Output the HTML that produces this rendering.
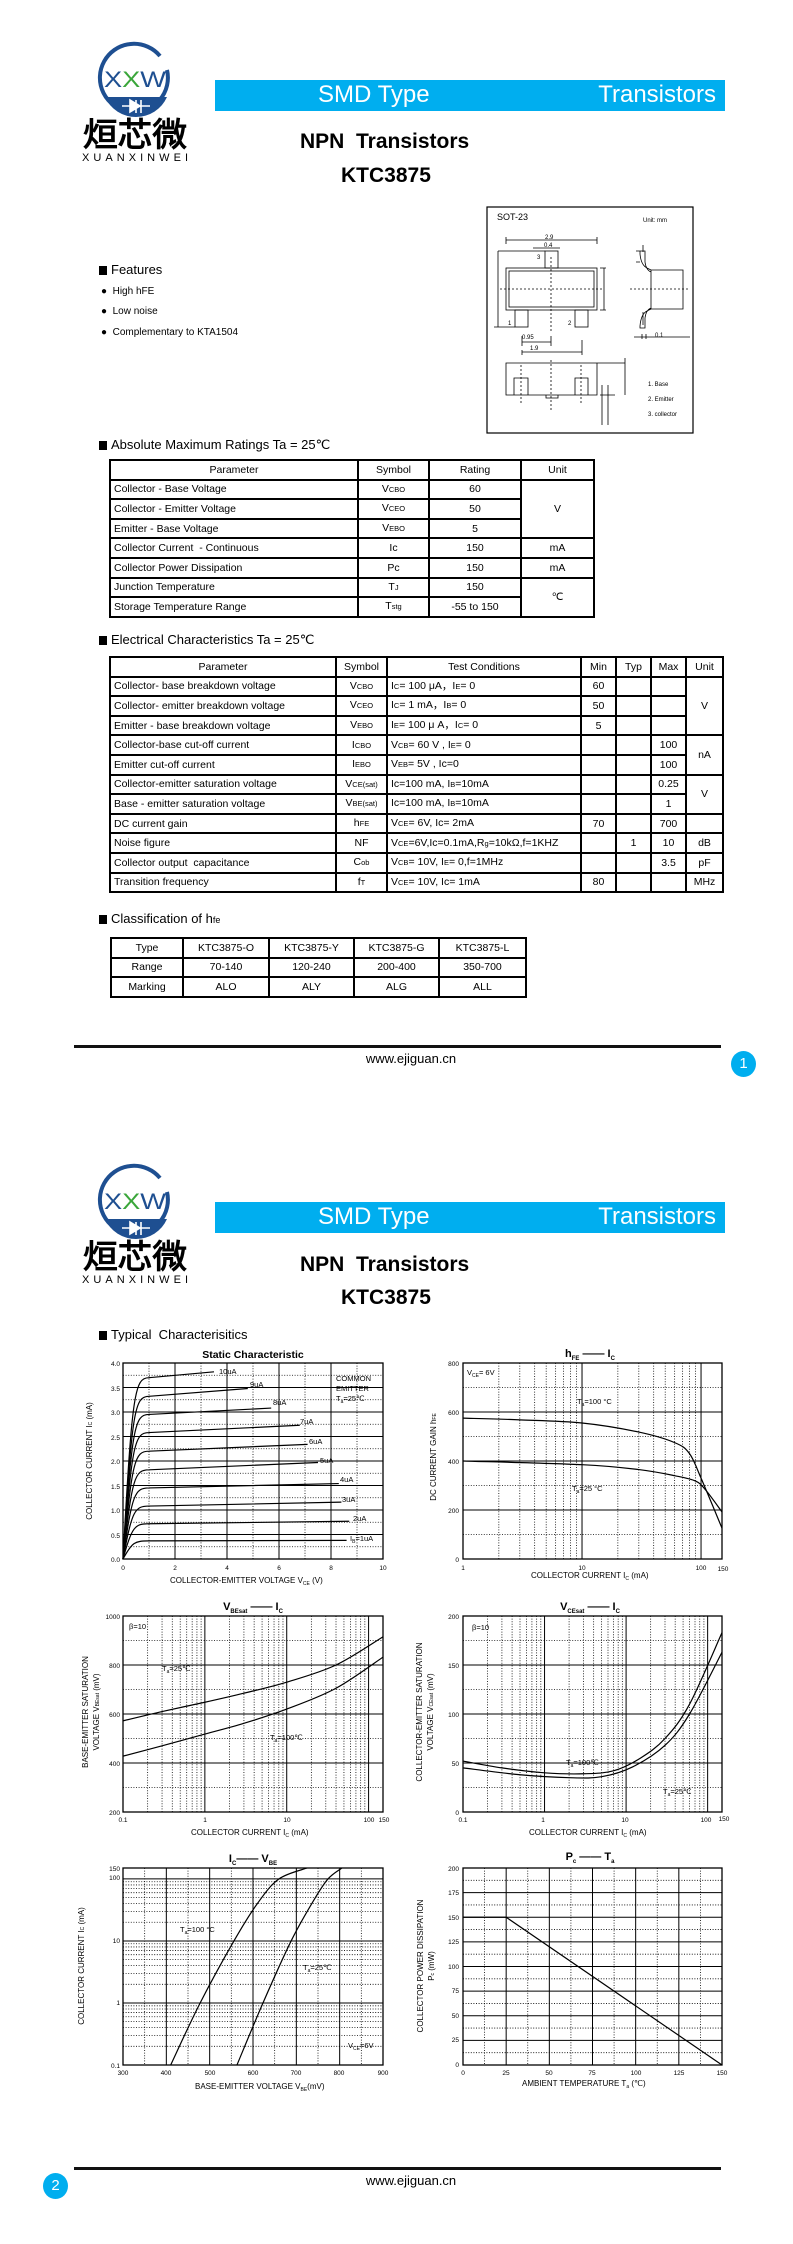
<!DOCTYPE html>
<html><head><meta charset="utf-8">
<style>
html,body{margin:0;padding:0;background:#fff;}
body{width:793px;height:2244px;position:relative;overflow:hidden;font-family:"Liberation Sans Narrow","Liberation Sans",sans-serif;color:#000;}
.a{position:absolute;white-space:nowrap;}
.bar{position:absolute;left:215px;width:510px;height:31px;background:#00aeef;color:#fff;font-size:24px;}
.bar .l{position:absolute;left:103px;top:1px;}
.bar .r{position:absolute;right:9px;top:1px;}
.h1{position:absolute;font-weight:bold;font-size:21px;}
.sec{position:absolute;left:99px;font-size:13px;}
.sec:before{content:"";display:inline-block;width:8px;height:9px;background:#000;margin-right:4px;vertical-align:-1px;}
table{position:absolute;border-collapse:collapse;table-layout:fixed;font-size:10.5px;}
td{border:2px solid #000;padding:0 0 0 3px;height:17.6px;line-height:14px;overflow:hidden;white-space:nowrap;}
td.c{text-align:center;padding:0;}
.s{font-size:7.5px;}
.foot{position:absolute;left:74px;width:647px;height:3px;background:#111;}
.www{position:absolute;font-size:13px;width:200px;text-align:center;}
.pg{position:absolute;width:25px;height:26px;border-radius:50%;background:#00aeef;color:#fff;font-size:15px;text-align:center;line-height:26px;}
svg text{font-family:"Liberation Sans Narrow","Liberation Sans",sans-serif;}
</style></head><body>

<svg class="a" style="left:0;top:0" width="793" height="2244" id="sv">
<defs>
<g id="logo">
 <path d="M160 56 A34 34 0 1 0 167 70" fill="none" stroke="#1e4f91" stroke-width="4"/>
 <path d="M105 97 L167 97 A34 34 0 0 1 105 97 Z" fill="#1e4f91"/>
 <path d="M122 106 L150 106 M136 100 L136 113 M130 100 L140 106 L130 112 Z M141 100 L141 113" stroke="#fff" stroke-width="1.6" fill="#fff"/>
 <text x="104" y="87" font-size="22" fill="#1e4f91" font-family="Liberation Sans" textLength="62" lengthAdjust="spacingAndGlyphs">X<tspan fill="#3aa63a">X</tspan>W</text>
 <text x="83" y="146" font-size="33" font-weight="bold" font-family="'Noto Sans CJK SC',sans-serif" textLength="104" lengthAdjust="spacingAndGlyphs">烜芯微</text>
 <text x="82" y="161" font-size="11" font-family="Liberation Sans" textLength="106" lengthAdjust="spacing">XUANXINWEI</text>
</g>
</defs>
<use href="#logo"/>
<use href="#logo" y="1122"/>

<g fill="none" stroke="#000" stroke-width="0.8">
 <rect x="487" y="207" width="206" height="226" stroke-width="1.2"/>
 <rect x="506" y="268" width="91" height="42"/>
 <rect x="509" y="271" width="85" height="36"/>
 <rect x="545" y="251" width="13" height="17"/>
 <rect x="515" y="310" width="13" height="17"/>
 <rect x="575" y="310" width="13" height="17"/>
 <path d="M506 237 V244 M597 237 V244 M506 240 H597 M533 248 H560 M498 251 H545 M498 251 V327 M494 327 H515 M600 268 H606 M600 310 H606 M604 268 V310 M522 336 V346 M551 336 V346 M522 342 H551 M522 350 V355 M582 340 V355 M522 352 H582"/>
 <path d="M551 257 V332 M500 289 H603" stroke-dasharray="2,2"/>
 <path d="M651 270 H683 V309 H651 Z M651 270 L647 268 Q641 265 640 254 V251 H645 V262 Q646 270 651 272 M651 309 L647 311 Q641 314 640 326 V328 H645 V318 Q646 310 651 308 M643 245 V252 M640 262 H636 M640 251 H636 M643 312 V325 M642 339 V334 M646 339 V334 M634 337 H690"/>
 <path d="M630 289 H688" stroke-dasharray="2,2"/>
 <path d="M506 363 H597 V395 H506 Z M514 378 H528 V395 H514 Z M575 378 H588 V395 H575 Z M546 395 H558 V398 H546 Z M597 363 H625 M625 358 V395 M600 395 H615 M602 385 V425 M608 385 V425"/>
 <path d="M521 365 V405 M551 360 V410 M581 365 V405" stroke-dasharray="2,2"/>
</g>
<g font-family="Liberation Serif" font-size="8">
 <text x="497" y="220" font-size="9">SOT-23</text>
 <text x="643" y="222" font-size="6">Unit: mm</text>
 <text x="545" y="239" font-size="6">2.9</text>
 <text x="544" y="247" font-size="6">0.4</text>
 <text x="537" y="259" font-size="6">3</text>
 <text x="508" y="325" font-size="6">1</text>
 <text x="568" y="325" font-size="6">2</text>
 <text x="522" y="339" font-size="6">0.95</text>
 <text x="530" y="350" font-size="6">1.9</text>
 <text x="648" y="386" font-size="6">1. Base</text>
 <text x="648" y="401" font-size="6">2. Emitter</text>
 <text x="648" y="416" font-size="6">3. collector</text>
 <text x="655" y="337" font-size="6">0.1</text>
</g>

<g font-size="8" id="txt">
 <text x="253" y="1358" text-anchor="middle" font-size="10.5" font-weight="bold">Static Characteristic</text>
 <g text-anchor="end" font-size="6.5">
  <text x="120" y="1366">4.0</text><text x="120" y="1391">3.5</text><text x="120" y="1415">3.0</text><text x="120" y="1440">2.5</text><text x="120" y="1464">2.0</text><text x="120" y="1489">1.5</text><text x="120" y="1513">1.0</text><text x="120" y="1538">0.5</text><text x="120" y="1562">0.0</text>
 </g>
 <g text-anchor="middle" font-size="6.5">
  <text x="123" y="1570">0</text><text x="175" y="1570">2</text><text x="227" y="1570">4</text><text x="279" y="1570">6</text><text x="331" y="1570">8</text><text x="383" y="1570">10</text>
 </g>
 <text x="170" y="1583" font-size="8">COLLECTOR-EMITTER VOLTAGE   V<tspan font-size="5" dy="2">CE</tspan><tspan dy="-2">   (V)</tspan></text>
 <text transform="translate(92,1461) rotate(-90)" text-anchor="middle" font-size="8" font-family="Liberation Sans">COLLECTOR CURRENT   I<tspan font-size="5">C</tspan>   (mA)</text>
 <g font-size="7.5">
  <text x="219" y="1374">10uA</text><text x="250" y="1387">9uA</text><text x="273" y="1405">8uA</text><text x="300" y="1424">7uA</text><text x="309" y="1444">6uA</text><text x="320" y="1463">5uA</text><text x="340" y="1482">4uA</text><text x="342" y="1502">3uA</text><text x="353" y="1521">2uA</text><text x="350" y="1541">I<tspan font-size="5" dy="2">B</tspan><tspan dy="-2">=1uA</tspan></text>
  <text x="336" y="1381">COMMON</text><text x="336" y="1391">EMITTER</text><text x="336" y="1401">T<tspan font-size="5" dy="2">a</tspan><tspan dy="-2">=25℃</tspan></text>
 </g>
 <text x="590" y="1357" text-anchor="middle" font-size="11" font-weight="bold">h<tspan font-size="6" dy="3">FE</tspan><tspan dy="-3"> —— I</tspan><tspan font-size="6" dy="3">C</tspan></text>
 <g text-anchor="end" font-size="6.5">
  <text x="459" y="1366">800</text><text x="459" y="1415">600</text><text x="459" y="1464">400</text><text x="459" y="1513">200</text><text x="459" y="1562">0</text>
 </g>
 <g text-anchor="middle" font-size="6.5">
  <text x="463" y="1570">1</text><text x="582" y="1570">10</text><text x="701" y="1570">100</text><text x="723" y="1571">150</text>
 </g>
 <text x="531" y="1578" font-size="8">COLLECTOR CURRENT   I<tspan font-size="5" dy="2">C</tspan><tspan dy="-2">   (mA)</tspan></text>
 <text transform="translate(436,1457) rotate(-90)" text-anchor="middle" font-size="8" font-family="Liberation Sans">DC CURRENT GAIN  h<tspan font-size="5">FE</tspan></text>
 <text x="467" y="1375" font-size="7.5">V<tspan font-size="5" dy="2">CE</tspan><tspan dy="-2">= 6V</tspan></text>
 <text x="577" y="1404" font-size="7.5">T<tspan font-size="5" dy="2">a</tspan><tspan dy="-2">=100 °C</tspan></text>
 <text x="572" y="1491" font-size="7.5">T<tspan font-size="5" dy="2">a</tspan><tspan dy="-2">=25 °C</tspan></text>
 <text x="253" y="1610" text-anchor="middle" font-size="11" font-weight="bold">V<tspan font-size="6" dy="3">BEsat</tspan><tspan dy="-3"> —— I</tspan><tspan font-size="6" dy="3">C</tspan></text>
 <g text-anchor="end" font-size="6.5">
  <text x="120" y="1619">1000</text><text x="120" y="1668">800</text><text x="120" y="1717">600</text><text x="120" y="1766">400</text><text x="120" y="1815">200</text>
 </g>
 <g text-anchor="middle" font-size="6.5">
  <text x="123" y="1822">0.1</text><text x="205" y="1822">1</text><text x="287" y="1822">10</text><text x="369" y="1822">100</text><text x="384" y="1822">150</text>
 </g>
 <text x="191" y="1835" font-size="8">COLLECTOR CURRENT   I<tspan font-size="5" dy="2">C</tspan><tspan dy="-2">   (mA)</tspan></text>
 <text transform="translate(88,1712) rotate(-90)" text-anchor="middle" font-size="8" font-family="Liberation Sans">BASE-EMITTER SATURATION</text>
 <text transform="translate(99,1712) rotate(-90)" text-anchor="middle" font-size="8" font-family="Liberation Sans">VOLTAGE   V<tspan font-size="5">BEsat</tspan>   (mV)</text>
 <text x="129" y="1629" font-size="7.5">β=10</text>
 <text x="162" y="1671" font-size="7.5">T<tspan font-size="5" dy="2">a</tspan><tspan dy="-2">=25℃</tspan></text>
 <text x="270" y="1740" font-size="7.5">T<tspan font-size="5" dy="2">a</tspan><tspan dy="-2">=100℃</tspan></text>
 <text x="590" y="1610" text-anchor="middle" font-size="11" font-weight="bold">V<tspan font-size="6" dy="3">CEsat</tspan><tspan dy="-3"> —— I</tspan><tspan font-size="6" dy="3">C</tspan></text>
 <g text-anchor="end" font-size="6.5">
  <text x="459" y="1619">200</text><text x="459" y="1668">150</text><text x="459" y="1717">100</text><text x="459" y="1766">50</text><text x="459" y="1815">0</text>
 </g>
 <g text-anchor="middle" font-size="6.5">
  <text x="463" y="1822">0.1</text><text x="543" y="1822">1</text><text x="625" y="1822">10</text><text x="706" y="1822">100</text><text x="724" y="1821">150</text>
 </g>
 <text x="529" y="1835" font-size="8">COLLECTOR CURRENT   I<tspan font-size="5" dy="2">C</tspan><tspan dy="-2">   (mA)</tspan></text>
 <text transform="translate(422,1712) rotate(-90)" text-anchor="middle" font-size="8" font-family="Liberation Sans">COLLECTOR-EMITTER SATURATION</text>
 <text transform="translate(433,1712) rotate(-90)" text-anchor="middle" font-size="8" font-family="Liberation Sans">VOLTAGE   V<tspan font-size="5">CEsat</tspan>   (mV)</text>
 <text x="472" y="1630" font-size="7.5">β=10</text>
 <text x="566" y="1765" font-size="7.5">T<tspan font-size="5" dy="2">a</tspan><tspan dy="-2">=100℃</tspan></text>
 <text x="663" y="1794" font-size="7.5">T<tspan font-size="5" dy="2">a</tspan><tspan dy="-2">=25℃</tspan></text>
 <text x="253" y="1862" text-anchor="middle" font-size="11" font-weight="bold">I<tspan font-size="6" dy="3">C</tspan><tspan dy="-3">—— V</tspan><tspan font-size="6" dy="3">BE</tspan></text>
 <g text-anchor="end" font-size="6.5">
  <text x="120" y="1871">150</text><text x="120" y="1880">100</text><text x="120" y="1943">10</text><text x="120" y="2005">1</text><text x="120" y="2068">0.1</text>
 </g>
 <g text-anchor="middle" font-size="6.5">
  <text x="123" y="2075">300</text><text x="166" y="2075">400</text><text x="210" y="2075">500</text><text x="253" y="2075">600</text><text x="296" y="2075">700</text><text x="339" y="2075">800</text><text x="383" y="2075">900</text>
 </g>
 <text x="195" y="2089" font-size="8">BASE-EMITTER VOLTAGE    V<tspan font-size="5" dy="2">BE</tspan><tspan dy="-2">(mV)</tspan></text>
 <text transform="translate(84,1966) rotate(-90)" text-anchor="middle" font-size="8" font-family="Liberation Sans">COLLECTOR CURRENT      I<tspan font-size="5">C</tspan> (mA)</text>
 <text x="180" y="1932" font-size="7.5">T<tspan font-size="5" dy="2">a</tspan><tspan dy="-2">=100 °C</tspan></text>
 <text x="303" y="1970" font-size="7.5">T<tspan font-size="5" dy="2">a</tspan><tspan dy="-2">=25℃</tspan></text>
 <text x="348" y="2048" font-size="7.5">V<tspan font-size="5" dy="2">CE</tspan><tspan dy="-2">=6V</tspan></text>
 <text x="590" y="1860" text-anchor="middle" font-size="11" font-weight="bold">P<tspan font-size="6" dy="3">c</tspan><tspan dy="-3"> —— T</tspan><tspan font-size="6" dy="3">a</tspan></text>
 <g text-anchor="end" font-size="6.5">
  <text x="459" y="1871">200</text><text x="459" y="1895">175</text><text x="459" y="1920">150</text><text x="459" y="1944">125</text><text x="459" y="1969">100</text><text x="459" y="1993">75</text><text x="459" y="2018">50</text><text x="459" y="2042">25</text><text x="459" y="2067">0</text>
 </g>
 <g text-anchor="middle" font-size="6.5">
  <text x="463" y="2075">0</text><text x="506" y="2075">25</text><text x="549" y="2075">50</text><text x="592" y="2075">75</text><text x="636" y="2075">100</text><text x="679" y="2075">125</text><text x="722" y="2075">150</text>
 </g>
 <text x="522" y="2086" font-size="8">AMBIENT TEMPERATURE   T<tspan font-size="5" dy="2">a</tspan><tspan dy="-2">   (℃)</tspan></text>
 <text transform="translate(423,1966) rotate(-90)" text-anchor="middle" font-size="8" font-family="Liberation Sans">COLLECTOR POWER DISSIPATION</text>
 <text transform="translate(434,1966) rotate(-90)" text-anchor="middle" font-size="8" font-family="Liberation Sans">P<tspan font-size="5">c</tspan>   (mW)</text>
</g>
<g id="lines"></g>
</svg>

<div class="bar" style="top:80px"><span class="l">SMD Type</span><span class="r">Transistors</span></div>
<div class="h1" style="left:300px;top:130px;">NPN&nbsp; Transistors</div>
<div class="h1" style="left:341px;top:164px;">KTC3875</div>

<div class="sec" style="top:262px">Features</div>
<div class="a" style="left:101px;top:286px;font-size:10px">●&nbsp; High hFE</div>
<div class="a" style="left:101px;top:306px;font-size:10px">●&nbsp; Low noise</div>
<div class="a" style="left:101px;top:327px;font-size:10px">●&nbsp; Complementary to KTA1504</div>

<div class="sec" style="top:437px">Absolute Maximum Ratings Ta = 25℃</div>
<table style="left:109px;top:459px;width:484px">
<colgroup><col style="width:248px"><col style="width:71px"><col style="width:92px"><col style="width:73px"></colgroup>
<tr><td class="c">Parameter</td><td class="c">Symbol</td><td class="c">Rating</td><td class="c">Unit</td></tr>
<tr><td>Collector - Base Voltage</td><td class="c">V<span class="s">CBO</span></td><td class="c">60</td><td class="c" rowspan="3">V</td></tr>
<tr><td>Collector - Emitter Voltage</td><td class="c">V<span class="s">CEO</span></td><td class="c">50</td></tr>
<tr><td>Emitter - Base Voltage</td><td class="c">V<span class="s">EBO</span></td><td class="c">5</td></tr>
<tr><td>Collector Current&nbsp; - Continuous</td><td class="c">Ic</td><td class="c">150</td><td class="c">mA</td></tr>
<tr><td>Collector Power Dissipation</td><td class="c">Pc</td><td class="c">150</td><td class="c">mA</td></tr>
<tr><td>Junction Temperature</td><td class="c">T<span class="s">J</span></td><td class="c">150</td><td class="c" rowspan="2">℃</td></tr>
<tr><td>Storage Temperature Range</td><td class="c">T<span class="s">stg</span></td><td class="c">-55 to 150</td></tr>
</table>

<div class="sec" style="top:632px">Electrical Characteristics Ta = 25℃</div>
<table style="left:109px;top:656px;width:613px">
<colgroup><col style="width:226px"><col style="width:51px"><col style="width:194px"><col style="width:35px"><col style="width:35px"><col style="width:35px"><col style="width:37px"></colgroup>
<tr><td class="c">Parameter</td><td class="c">Symbol</td><td class="c">Test Conditions</td><td class="c">Min</td><td class="c">Typ</td><td class="c">Max</td><td class="c">Unit</td></tr>
<tr><td>Collector- base breakdown voltage</td><td class="c">V<span class="s">CBO</span></td><td>I<span class="s">C</span>= 100 μA，I<span class="s">E</span>= 0</td><td class="c">60</td><td></td><td></td><td class="c" rowspan="3">V</td></tr>
<tr><td>Collector- emitter breakdown voltage</td><td class="c">V<span class="s">CEO</span></td><td>I<span class="s">C</span>= 1 mA，I<span class="s">B</span>= 0</td><td class="c">50</td><td></td><td></td></tr>
<tr><td>Emitter - base breakdown voltage</td><td class="c">V<span class="s">EBO</span></td><td>I<span class="s">E</span>= 100 μ A，I<span class="s">C</span>= 0</td><td class="c">5</td><td></td><td></td></tr>
<tr><td>Collector-base cut-off current</td><td class="c">I<span class="s">CBO</span></td><td>V<span class="s">CB</span>= 60 V , I<span class="s">E</span>= 0</td><td></td><td></td><td class="c">100</td><td class="c" rowspan="2">nA</td></tr>
<tr><td>Emitter cut-off current</td><td class="c">I<span class="s">EBO</span></td><td>V<span class="s">EB</span>= 5V , Ic=0</td><td></td><td></td><td class="c">100</td></tr>
<tr><td>Collector-emitter saturation voltage</td><td class="c">V<span class="s">CE(sat)</span></td><td>Ic=100 mA, I<span class="s">B</span>=10mA</td><td></td><td></td><td class="c">0.25</td><td class="c" rowspan="2">V</td></tr>
<tr><td>Base - emitter saturation voltage</td><td class="c">V<span class="s">BE(sat)</span></td><td>Ic=100 mA, I<span class="s">B</span>=10mA</td><td></td><td></td><td class="c">1</td></tr>
<tr><td>DC current gain</td><td class="c">h<span class="s">FE</span></td><td>V<span class="s">CE</span>= 6V, Ic= 2mA</td><td class="c">70</td><td></td><td class="c">700</td><td></td></tr>
<tr><td>Noise figure</td><td class="c">NF</td><td>V<span class="s">CE</span>=6V,Ic=0.1mA,R<span class="s">g</span>=10kΩ,f=1KHZ</td><td></td><td class="c">1</td><td class="c">10</td><td class="c">dB</td></tr>
<tr><td>Collector output&nbsp; capacitance</td><td class="c">C<span class="s">ob</span></td><td>V<span class="s">CB</span>= 10V, I<span class="s">E</span>= 0,f=1MHz</td><td></td><td></td><td class="c">3.5</td><td class="c">pF</td></tr>
<tr><td>Transition frequency</td><td class="c">f<span class="s">T</span></td><td>V<span class="s">CE</span>= 10V, Ic= 1mA</td><td class="c">80</td><td></td><td></td><td class="c">MHz</td></tr>
</table>

<div class="sec" style="top:911px">Classification of h<span class="s" style="font-size:9px">fe</span></div>
<table style="left:110px;top:937px;width:415px">
<colgroup><col style="width:72px"><col style="width:86px"><col style="width:85px"><col style="width:85px"><col style="width:87px"></colgroup>
<tr><td class="c" style="height:16.5px">Type</td><td class="c">KTC3875-O</td><td class="c">KTC3875-Y</td><td class="c">KTC3875-G</td><td class="c">KTC3875-L</td></tr>
<tr><td class="c" style="height:16.5px">Range</td><td class="c">70-140</td><td class="c">120-240</td><td class="c">200-400</td><td class="c">350-700</td></tr>
<tr><td class="c" style="height:16.5px">Marking</td><td class="c">ALO</td><td class="c">ALY</td><td class="c">ALG</td><td class="c">ALL</td></tr>
</table>

<div class="foot" style="top:1045px"></div>
<div class="www" style="left:311px;top:1051px">www.ejiguan.cn</div>
<div class="pg" style="left:731px;top:1051px">1</div>

<div class="bar" style="top:1202px"><span class="l">SMD Type</span><span class="r">Transistors</span></div>
<div class="h1" style="left:300px;top:1253px;">NPN&nbsp; Transistors</div>
<div class="h1" style="left:341px;top:1286px;">KTC3875</div>
<div class="sec" style="top:1327px">Typical&nbsp; Characterisitics</div>

<div class="foot" style="top:2167px"></div>
<div class="www" style="left:311px;top:2173px">www.ejiguan.cn</div>
<div class="pg" style="left:43px;top:2173px">2</div>

<script>
(function(){
var g=document.getElementById('lines'),out='';
function L(x1,y1,x2,y2,dot,w){out+='<line x1="'+x1+'" y1="'+y1+'" x2="'+x2+'" y2="'+y2+'" stroke="#000" stroke-width="'+(w||(dot?0.8:1))+'"'+(dot?' stroke-dasharray="1,1.6"':'')+'/>';}
function R(x0,y0,x1,y1){out+='<rect x="'+x0+'" y="'+y0+'" width="'+(x1-x0)+'" height="'+(y1-y0)+'" fill="none" stroke="#000" stroke-width="1.3"/>';}
function P(pts){
 var d='M'+pts[0][0]+' '+pts[0][1];
 for(var i=0;i<pts.length-1;i++){var p0=pts[i-1]||pts[i],p1=pts[i],p2=pts[i+1],p3=pts[i+2]||p2;
  d+=' C'+(p1[0]+(p2[0]-p0[0])/6)+' '+(p1[1]+(p2[1]-p0[1])/6)+' '+(p2[0]-(p3[0]-p1[0])/6)+' '+(p2[1]-(p3[1]-p1[1])/6)+' '+p2[0]+' '+p2[1];}
 out+='<path d="'+d+'" fill="none" stroke="#000" stroke-width="1.2"/>';}
var lg=[];[0.1,1,10,100].forEach(function(b){for(var k=1;k<10;k++)lg.push(b*k);});
function lgvals(a,b){return lg.filter(function(v){return v>a*1.0001&&v<b*0.999;});}
function isDec(v){var l=Math.log10(v);return Math.abs(l-Math.round(l))<1e-6;}
var a=123,b=383,t=1363,bo=1559;
function X1(v){return a+v*26;}function Y1(v){return bo-v*49;}
for(var v=1;v<10;v++)L(X1(v),t,X1(v),bo,v%2==1);
for(var i=1;i<16;i++)L(a,Y1(i*0.25),b,Y1(i*0.25),i%2==1);
R(a,t,b,bo);
[[3.7,3.5,3.82],[3.32,4.8,3.48],[2.95,5.7,3.08],[2.58,6.8,2.73],[2.2,7.1,2.34],[1.82,7.5,1.97],[1.45,8.3,1.54],[1.08,8.4,1.16],[0.72,8.7,0.77],[0.37,8.6,0.38]].forEach(function(c){
 var I=c[0];out+='<path d="M'+X1(0)+' '+Y1(0)+' C'+X1(0.35)+' '+Y1(I*0.92)+' '+X1(0.45)+' '+Y1(I)+' '+X1(1)+' '+Y1(I)+' L'+X1(c[1])+' '+Y1(c[2])+'" fill="none" stroke="#000" stroke-width="1.2"/>';});
a=463;b=722;
function X2(v){return a+Math.log10(v)/Math.log10(150)*259;}function Y2(v){return bo-v/800*196;}
lgvals(1,150).forEach(function(v){L(X2(v),t,X2(v),bo,!isDec(v));});
for(i=1;i<8;i++)L(a,Y2(i*100),b,Y2(i*100),i%2==1);
R(a,t,b,bo);
P([[1,575],[3,568],[10,555],[30,518],[60,475],[80,430],[100,330],[150,126]].map(function(p){return[X2(p[0]),Y2(p[1])];}));
P([[1,400],[10,385],[30,365],[60,340],[90,318],[110,280],[150,192]].map(function(p){return[X2(p[0]),Y2(p[1])];}));
a=123;b=383;t=1616;bo=1812;
function X3(v){return a+Math.log10(v/0.1)/Math.log10(1500)*260;}function Y3(v){return bo-(v-200)/800*196;}
lgvals(0.1,150).forEach(function(v){L(X3(v),t,X3(v),bo,!isDec(v));});
for(i=1;i<8;i++)L(a,Y3(200+i*100),b,Y3(200+i*100),i%2==1);
R(a,t,b,bo);
P([[0.1,572],[0.3,610],[1,648],[3,685],[10,730],[40,800],[150,915]].map(function(p){return[X3(p[0]),Y3(p[1])];}));
P([[0.1,428],[0.3,470],[1,518],[3,562],[10,620],[40,705],[150,832]].map(function(p){return[X3(p[0]),Y3(p[1])];}));
a=463;b=722;
function X4(v){return a+Math.log10(v/0.1)/Math.log10(1500)*259;}function Y4(v){return bo-v/200*196;}
lgvals(0.1,150).forEach(function(v){L(X4(v),t,X4(v),bo,!isDec(v));});
for(i=1;i<8;i++)L(a,Y4(i*25),b,Y4(i*25),i%2==1);
R(a,t,b,bo);
P([[0.1,52],[0.3,45],[1,40],[3,39],[7,42],[15,55],[30,75],[60,110],[150,183]].map(function(p){return[X4(p[0]),Y4(p[1])];}));
P([[0.1,45],[0.5,38],[2,35],[5,36],[12,46],[30,68],[60,100],[150,163]].map(function(p){return[X4(p[0]),Y4(p[1])];}));
a=123;b=383;t=1868;bo=2065;
function X5(v){return a+(v-300)/600*260;}function Y5(v){return bo-Math.log10(v/0.1)/Math.log10(1500)*197;}
for(v=350;v<900;v+=50)L(X5(v),t,X5(v),bo,v%100!=0);
lgvals(0.1,150).forEach(function(v){L(a,Y5(v),b,Y5(v),!isDec(v));});
R(a,t,b,bo);
P([[410,0.1],[478,1],[556,10],[610,40],[660,100],[725,150]].map(function(p){return[X5(p[0]),Y5(p[1])];}));
P([[563,0.1],[623,1],[688,10],[740,45],[773,100],[805,150]].map(function(p){return[X5(p[0]),Y5(p[1])];}));
a=463;b=722;
function X6(v){return a+v/150*259;}function Y6(v){return bo-v/200*197;}
for(v=12.5;v<150;v+=12.5)L(X6(v),t,X6(v),bo,v%25!=0);
for(v=12.5;v<200;v+=12.5)L(a,Y6(v),b,Y6(v),v%25!=0);
R(a,t,b,bo);
out+='<polyline points="'+X6(0)+','+Y6(150)+' '+X6(25)+','+Y6(150)+' '+X6(150)+','+Y6(0)+'" fill="none" stroke="#000" stroke-width="1.2"/>';
g.innerHTML=out;
})();
</script>
</body></html>
